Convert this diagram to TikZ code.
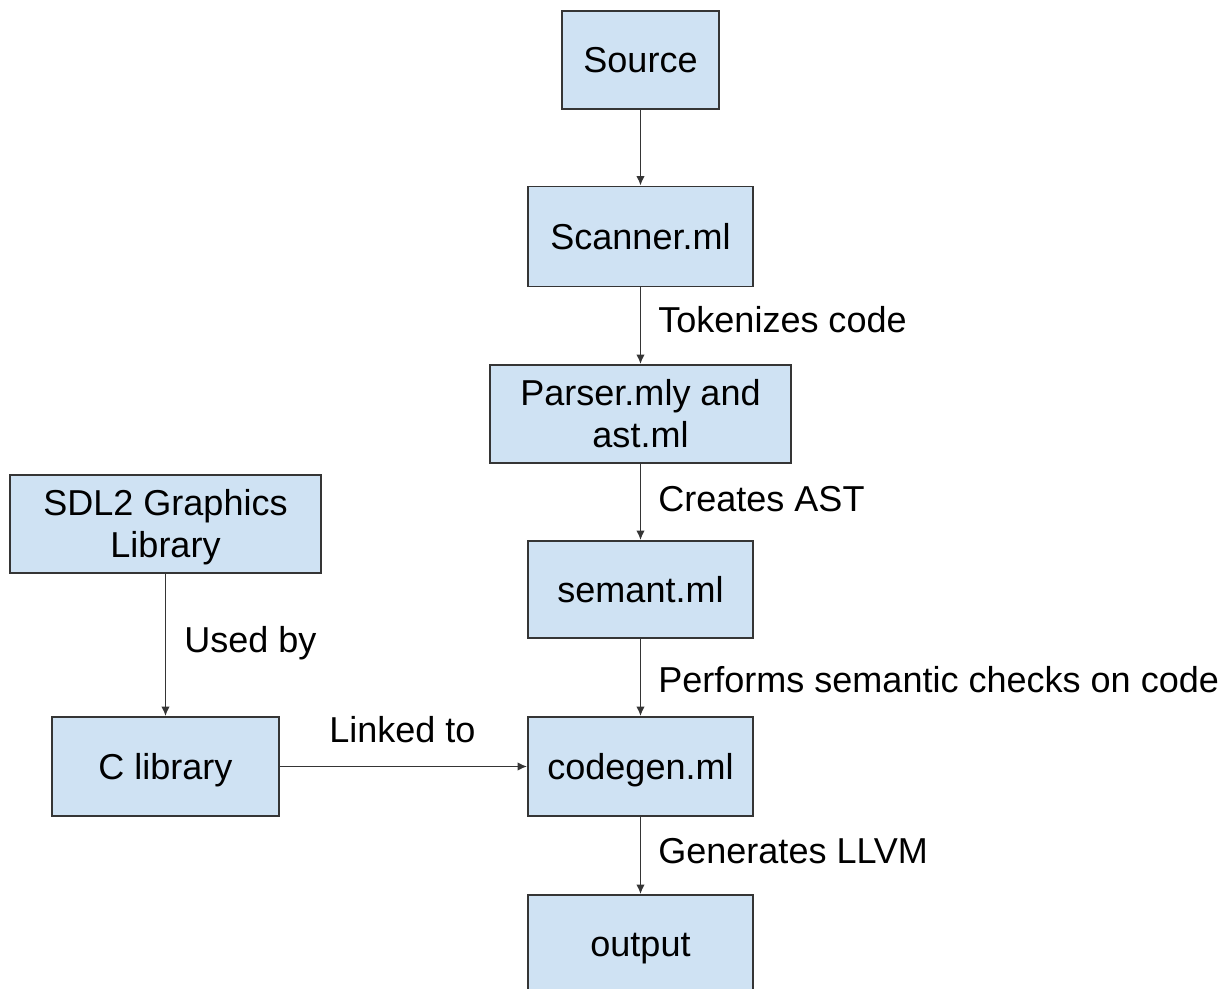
\documentclass[tikz,border=0pt]{standalone}
\usepackage{fontspec}
\setmainfont{Liberation Sans}
\usetikzlibrary{arrows.meta}

\begin{document}
\begin{tikzpicture}[
    >={Latex[length=0.19cm,width=0.17cm]},
    line cap=round,
    stage/.style={draw=edge_color, fill=box_color, line width=1.1pt,
        inner sep=0pt, align=center, text height=0.516cm, text depth=0pt},
    twoline/.style={text height=1.359cm},
    flow/.style={->, draw=edge_color, line width=0.85pt},
    note/.style={anchor=base west, inner sep=0pt}
]

% --- 1. SETTINGS & COLORS ---
\definecolor{box_color}{HTML}{CFE2F3}
\definecolor{edge_color}{HTML}{353535}
\tikzset{every node/.append style={font=\fontsize{20.5}{23.9}\selectfont}}

% --- 2. FRAME ---
% The last box runs off the bottom edge, so clip to the page
\clip (0, 0) rectangle (24.58, 19.76);

% --- 3. COMPILER STAGES ---
\node[stage, minimum width=3.14cm, minimum height=1.96cm] (source)  at (12.81, 18.56) {Source};
\node[stage, minimum width=4.50cm, minimum height=2.00cm] (scanner) at (12.81, 15.03) {Scanner.ml};
\node[stage, twoline, minimum width=6.02cm, minimum height=1.96cm] (parser) at (12.81, 11.48) {Parser.mly and\\ast.ml};
\node[stage, minimum width=4.50cm, minimum height=1.94cm] (semant)  at (12.81, 7.97) {semant.ml};
\node[stage, minimum width=4.50cm, minimum height=1.98cm] (codegen) at (12.81, 4.43) {codegen.ml};
\node[stage, minimum width=4.50cm, minimum height=1.96cm] (output)  at (12.81, 0.88) {output};

% --- 4. LIBRARIES ---
\node[stage, twoline, minimum width=6.22cm, minimum height=1.96cm] (sdl) at (3.31, 9.28) {SDL2 Graphics\\Library};
\node[stage, minimum width=4.54cm, minimum height=1.98cm] (clib) at (3.31, 4.43) {C library};

% --- 5. CONNECTORS ---
\draw[flow] (source) -- (scanner);
\draw[flow] (scanner) -- (parser);
\draw[flow] (parser) -- (semant);
\draw[flow] (semant) -- (codegen);
\draw[flow] (codegen) -- (output);
\draw[flow] (sdl) -- (clib);
\draw[flow] (clib) -- (codegen);

% --- 6. LABELS ---
\node[note] (tokenize) at (13.16, 13.10) {Tokenizes code};
\node[note] (creates)  at (13.16, 9.52) {Creates AST};
\node[note] (checks)   at (13.16, 5.90) {Performs semantic checks on code};
\node[note] (generate) at (13.16, 2.50) {Generates LLVM};
\node[note] (usedby)   at (3.68, 6.70) {Used by};
\node[note] (linked)   at (6.58, 4.92) {Linked to};

\end{tikzpicture}
\end{document}
